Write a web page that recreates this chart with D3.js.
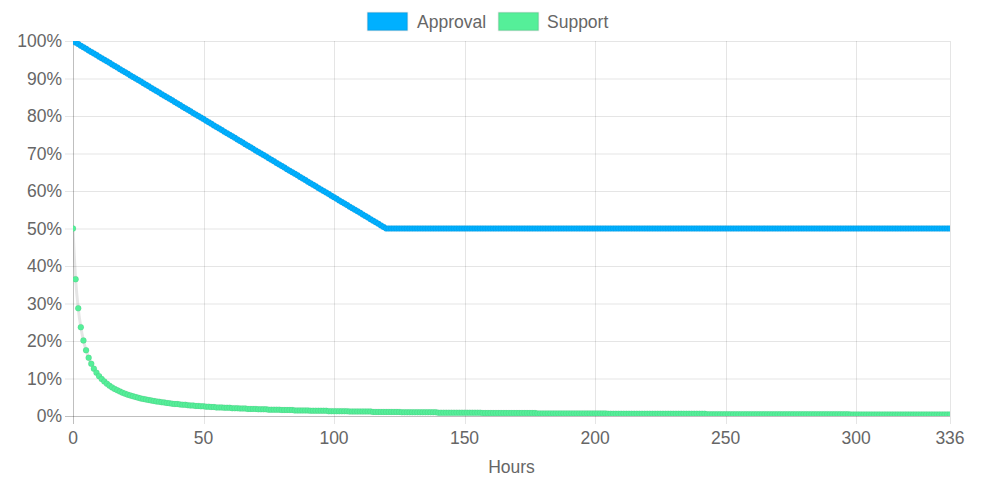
<!DOCTYPE html>
<html>
<head>
<meta charset="utf-8">
<script src="https://cdn.jsdelivr.net/npm/d3@7"></script>
<style>
  body { margin: 0; background: #fff; }
  svg { display: block; font-family: "Liberation Sans", Arial, sans-serif; }
</style>
</head>
<body>
<svg width="998" height="482"></svg>
<script>
// Approval (%) per hour, 0..336
const approval = [
  100, 99.58, 99.17, 98.75, 98.33, 97.92, 97.5, 97.08, 96.67, 96.25, 95.83, 95.42,
  95, 94.58, 94.17, 93.75, 93.33, 92.92, 92.5, 92.08, 91.67, 91.25, 90.83, 90.42,
  90, 89.58, 89.17, 88.75, 88.33, 87.92, 87.5, 87.08, 86.67, 86.25, 85.83, 85.42,
  85, 84.58, 84.17, 83.75, 83.33, 82.92, 82.5, 82.08, 81.67, 81.25, 80.83, 80.42,
  80, 79.58, 79.17, 78.75, 78.33, 77.92, 77.5, 77.08, 76.67, 76.25, 75.83, 75.42,
  75, 74.58, 74.17, 73.75, 73.33, 72.92, 72.5, 72.08, 71.67, 71.25, 70.83, 70.42,
  70, 69.58, 69.17, 68.75, 68.33, 67.92, 67.5, 67.08, 66.67, 66.25, 65.83, 65.42,
  65, 64.58, 64.17, 63.75, 63.33, 62.92, 62.5, 62.08, 61.67, 61.25, 60.83, 60.42,
  60, 59.58, 59.17, 58.75, 58.33, 57.92, 57.5, 57.08, 56.67, 56.25, 55.83, 55.42,
  55, 54.58, 54.17, 53.75, 53.33, 52.92, 52.5, 52.08, 51.67, 51.25, 50.83, 50.42,
  50,
  50, 50, 50, 50, 50, 50, 50, 50, 50, 50, 50, 50,
  50, 50, 50, 50, 50, 50, 50, 50, 50, 50, 50, 50,
  50, 50, 50, 50, 50, 50, 50, 50, 50, 50, 50, 50,
  50, 50, 50, 50, 50, 50, 50, 50, 50, 50, 50, 50,
  50, 50, 50, 50, 50, 50, 50, 50, 50, 50, 50, 50,
  50, 50, 50, 50, 50, 50, 50, 50, 50, 50, 50, 50,
  50, 50, 50, 50, 50, 50, 50, 50, 50, 50, 50, 50,
  50, 50, 50, 50, 50, 50, 50, 50, 50, 50, 50, 50,
  50, 50, 50, 50, 50, 50, 50, 50, 50, 50, 50, 50,
  50, 50, 50, 50, 50, 50, 50, 50, 50, 50, 50, 50,
  50, 50, 50, 50, 50, 50, 50, 50, 50, 50, 50, 50,
  50, 50, 50, 50, 50, 50, 50, 50, 50, 50, 50, 50,
  50, 50, 50, 50, 50, 50, 50, 50, 50, 50, 50, 50,
  50, 50, 50, 50, 50, 50, 50, 50, 50, 50, 50, 50,
  50, 50, 50, 50, 50, 50, 50, 50, 50, 50, 50, 50,
  50, 50, 50, 50, 50, 50, 50, 50, 50, 50, 50, 50,
  50, 50, 50, 50, 50, 50, 50, 50, 50, 50, 50, 50,
  50, 50, 50, 50, 50, 50, 50, 50, 50, 50, 50, 50
];

// Support (%) per hour, 0..336
const support = [
  50.00, 36.49, 28.72, 23.68, 20.15, 17.53, 15.52, 13.92, 12.62, 11.54,
  10.63, 9.85, 9.18, 8.60, 8.08, 7.63, 7.22, 6.85, 6.52, 6.22,
  5.95, 5.70, 5.47, 5.25, 5.06, 4.87, 4.70, 4.55, 4.40, 4.26,
  4.13, 4.0, 3.9, 3.8, 3.7, 3.6, 3.5, 3.4, 3.3, 3.2,
  3.2, 3.1, 3.0, 3.0, 2.9, 2.8, 2.8, 2.7, 2.7, 2.6,
  2.6, 2.5, 2.5, 2.4, 2.4, 2.3, 2.3, 2.3, 2.2, 2.2,
  2.2, 2.1, 2.1, 2.1, 2.0, 2.0, 2.0, 1.9, 1.9, 1.9,
  1.9, 1.8, 1.8, 1.8, 1.8, 1.7, 1.7, 1.7, 1.7, 1.7,
  1.6, 1.6, 1.6, 1.6, 1.6, 1.5, 1.5, 1.5, 1.5, 1.5,
  1.5, 1.4, 1.4, 1.4, 1.4, 1.4, 1.4, 1.4, 1.3, 1.3,
  1.3, 1.3, 1.3, 1.3, 1.3, 1.3, 1.2, 1.2, 1.2, 1.2,
  1.2, 1.2, 1.2, 1.2, 1.2, 1.1, 1.1, 1.1, 1.1, 1.1,
  1.1, 1.1, 1.1, 1.1, 1.1, 1.1, 1.0, 1.0, 1.0, 1.0,
  1.0, 1.0, 1.0, 1.0, 1.0, 1.0, 1.0, 1.0, 1.0, 1.0,
  0.9, 0.9, 0.9, 0.9, 0.9, 0.9, 0.9, 0.9, 0.9, 0.9,
  0.9, 0.9, 0.9, 0.9, 0.9, 0.9, 0.9, 0.8, 0.8, 0.8,
  0.8, 0.8, 0.8, 0.8, 0.8, 0.8, 0.8, 0.8, 0.8, 0.8,
  0.8, 0.8, 0.8, 0.8, 0.8, 0.8, 0.8, 0.8, 0.7, 0.7,
  0.7, 0.7, 0.7, 0.7, 0.7, 0.7, 0.7, 0.7, 0.7, 0.7,
  0.7, 0.7, 0.7, 0.7, 0.7, 0.7, 0.7, 0.7, 0.7, 0.7,
  0.7, 0.7, 0.7, 0.7, 0.7, 0.6, 0.6, 0.6, 0.6, 0.6,
  0.6, 0.6, 0.6, 0.6, 0.6, 0.6, 0.6, 0.6, 0.6, 0.6,
  0.6, 0.6, 0.6, 0.6, 0.6, 0.6, 0.6, 0.6, 0.6, 0.6,
  0.6, 0.6, 0.6, 0.6, 0.6, 0.6, 0.6, 0.6, 0.6, 0.6,
  0.6, 0.6, 0.6, 0.5, 0.5, 0.5, 0.5, 0.5, 0.5, 0.5,
  0.5, 0.5, 0.5, 0.5, 0.5, 0.5, 0.5, 0.5, 0.5, 0.5,
  0.5, 0.5, 0.5, 0.5, 0.5, 0.5, 0.5, 0.5, 0.5, 0.5,
  0.5, 0.5, 0.5, 0.5, 0.5, 0.5, 0.5, 0.5, 0.5, 0.5,
  0.5, 0.5, 0.5, 0.5, 0.5, 0.5, 0.5, 0.5, 0.5, 0.5,
  0.5, 0.5, 0.5, 0.5, 0.5, 0.5, 0.5, 0.5, 0.4, 0.4,
  0.4, 0.4, 0.4, 0.4, 0.4, 0.4, 0.4, 0.4, 0.4, 0.4,
  0.4, 0.4, 0.4, 0.4, 0.4, 0.4, 0.4, 0.4, 0.4, 0.4,
  0.4, 0.4, 0.4, 0.4, 0.4, 0.4, 0.4, 0.4, 0.4, 0.4,
  0.4, 0.4, 0.4, 0.4, 0.4, 0.4, 0.4
];

const xTicks = [0, 50, 100, 150, 200, 250, 300, 336];
const yTicks = [0, 10, 20, 30, 40, 50, 60, 70, 80, 90, 100];

const series = [
  { name: "Approval", values: approval, color: "#00b0ff" },
  { name: "Support", values: support, color: "#55ef99" }
];

const svg = d3.select("svg");
const margin = { left: 73, right: 48, top: 41, bottom: 66 };
const W = 998, H = 482;

const x = d3.scaleLinear().domain([0, 336]).range([margin.left, W - margin.right]);
const y = d3.scaleLinear().domain([0, 100]).range([H - margin.bottom, margin.top]);

const grid = "rgba(0,0,0,0.1)";
const zero = "rgba(0,0,0,0.25)";
const textCol = "#666";

// clip marks to the plot area
svg.append("defs").append("clipPath")
  .attr("id", "plot")
  .append("rect")
  .attr("x", margin.left).attr("y", margin.top)
  .attr("width", W - margin.right - margin.left)
  .attr("height", H - margin.bottom - margin.top);

// grid lines (with tick marks extending past the axes)
svg.append("g").selectAll("line")
  .data(yTicks)
  .enter().append("line")
  .attr("x1", margin.left - 8).attr("x2", W - margin.right)
  .attr("y1", d => y(d) + 0.5).attr("y2", d => y(d) + 0.5)
  .attr("stroke", d => d === 0 ? zero : grid);

svg.append("g").selectAll("line")
  .data(xTicks)
  .enter().append("line")
  .attr("x1", d => Math.round(x(d)) + 0.5).attr("x2", d => Math.round(x(d)) + 0.5)
  .attr("y1", margin.top).attr("y2", H - margin.bottom + 8)
  .attr("stroke", d => d === 0 ? zero : grid);

// tick labels
svg.append("g").selectAll("text")
  .data(yTicks)
  .enter().append("text")
  .attr("x", margin.left - 11)
  .attr("y", d => y(d))
  .attr("dy", "0.35em")
  .attr("text-anchor", "end")
  .attr("fill", textCol)
  .style("font-size", "17.5px")
  .text(d => d + "%");

svg.append("g").selectAll("text")
  .data(xTicks)
  .enter().append("text")
  .attr("x", d => x(d))
  .attr("y", H - margin.bottom + 28)
  .attr("text-anchor", "middle")
  .attr("fill", textCol)
  .style("font-size", "17.5px")
  .text(d => d);

svg.append("text")
  .attr("x", (margin.left + W - margin.right) / 2)
  .attr("y", 473)
  .attr("text-anchor", "middle")
  .attr("fill", textCol)
  .style("font-size", "17.5px")
  .text("Hours");

// lines + points
const line = d3.line()
  .x((d, i) => x(i))
  .y(d => y(d))
  .curve(d3.curveMonotoneX);

series.forEach(s => {
  const g = svg.append("g").attr("clip-path", "url(#plot)");
  g.append("path")
    .datum(s.values)
    .attr("d", line)
    .attr("fill", "none")
    .attr("stroke", "rgba(0,0,0,0.1)")
    .attr("stroke-width", 3);
  g.selectAll("circle")
    .data(s.values)
    .enter().append("circle")
    .attr("cx", (d, i) => x(i))
    .attr("cy", d => y(d))
    .attr("r", 3)
    .attr("fill", s.color)
    .attr("stroke", "rgba(0,0,0,0.06)")
    .attr("stroke-width", 1);
});

// legend
const legendItems = [
  { name: "Approval", color: "#00b0ff", bx: 367, tx: 417 },
  { name: "Support", color: "#55ef99", bx: 498, tx: 547 }
];
const lg = svg.append("g").selectAll("g")
  .data(legendItems)
  .enter().append("g");
lg.append("rect")
  .attr("x", d => d.bx + 0.5).attr("y", 12.5)
  .attr("width", 40).attr("height", 18)
  .attr("fill", d => d.color)
  .attr("stroke", "rgba(0,0,0,0.1)")
  .attr("stroke-width", 1.5);
lg.append("text")
  .attr("x", d => d.tx)
  .attr("y", 21.5)
  .attr("dy", "0.35em")
  .attr("fill", textCol)
  .style("font-size", "17.5px")
  .text(d => d.name);
</script>
</body>
</html>
